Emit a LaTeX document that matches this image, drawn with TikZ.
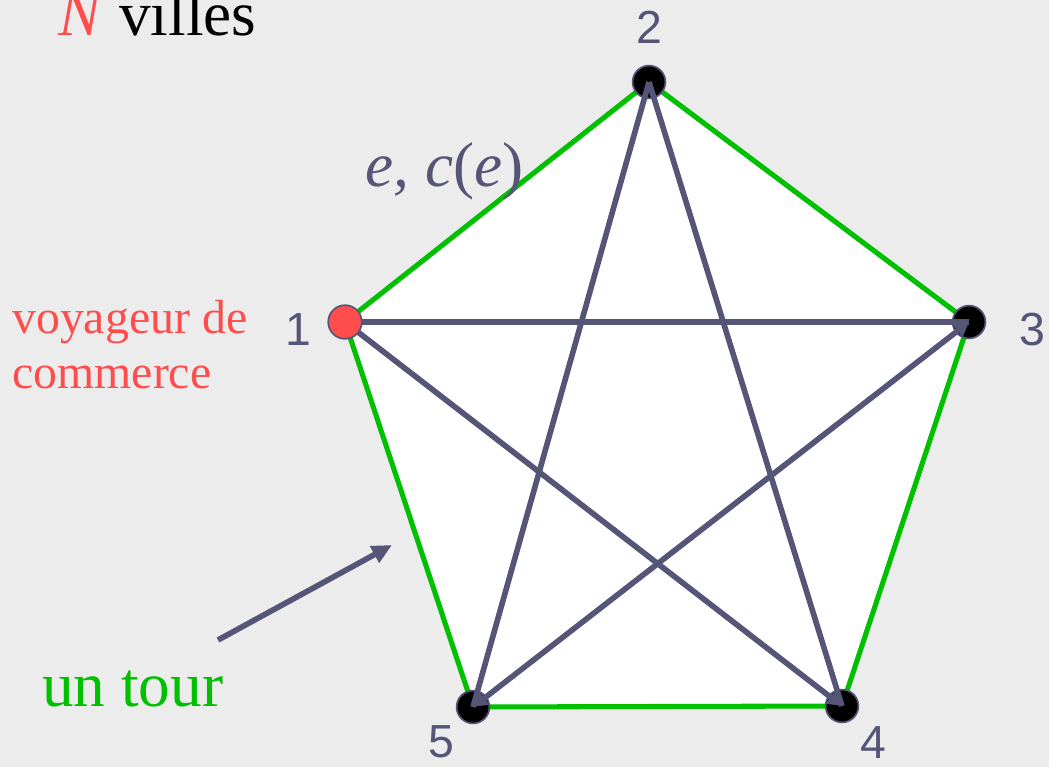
\documentclass[tikz,border=0pt]{standalone}
\usepackage{fontspec}
\setmainfont{Liberation Serif}
\setsansfont{Liberation Sans}
\usetikzlibrary{arrows.meta}
\definecolor{bg}{HTML}{ECECEC}
\definecolor{edgegrey}{HTML}{555577}
\definecolor{tourgreen}{HTML}{00C000}
\definecolor{redv}{HTML}{FF4D4D}
\begin{document}
\begin{tikzpicture}[x=0.025cm,y=-0.025cm,
  tour/.style={draw=tourgreen,line width=3.6pt},
  chord/.style={draw=edgegrey,line width=4pt},
  tiphead/.style={-{Triangle[length=0.36cm,width=0.38cm]}},
  city/.style={circle,fill=black,draw=edgegrey,line width=1.2pt,minimum size=0.82cm,inner sep=0pt},
  start/.style={circle,fill=redv,draw=edgegrey,line width=1.2pt,minimum size=0.84cm,inner sep=0pt},
  num/.style={font=\sffamily\fontsize{33}{38}\selectfont,text=edgegrey,inner sep=0pt},
  big/.style={font=\fontsize{45}{50}\selectfont,inner sep=0pt},
  mid/.style={font=\fontsize{34}{39}\selectfont,text=redv,inner sep=0pt}]
\useasboundingbox (0,0) rectangle (1049,767);
\fill[bg] (0,0) rectangle (1049,767);
\coordinate (p1) at (345,322);
\coordinate (p2) at (649,82);
\coordinate (p3) at (969,322);
\coordinate (p4) at (842,706);
\coordinate (p5) at (473,707);
\fill[white] (p1) -- (p2) -- (p3) -- (p4) -- (p5) -- cycle;
\draw[tour] (p1) -- (p2) -- (p3) -- (p4) -- (p5) -- cycle;
\node[city] (v2) at (p2) {};
\node[city] (v3) at (p3) {};
\node[city] (v4) at (p4) {};
\node[city] (v5) at (p5) {};
\draw[chord] (p1) -- (p3);
\draw[chord,tiphead] (p1) -- (p4);
\draw[chord] (p2) -- (p5);
\draw[chord] (p2) -- (p4);
\draw[chord,{Triangle[length=0.36cm,width=0.38cm]}-{Triangle[length=0.36cm,width=0.38cm]}] (p5) -- (p3);
\node[start] (v1) at (p1) {};
\node[num] (l1) at (298,330) {1};
\node[num] (l2) at (649,27) {2};
\node[num] (l3) at (1032,330) {3};
\node[num] (l4) at (873,743) {4};
\node[num] (l5) at (441,742) {5};
\node[big,anchor=base west] (title) at (58,36) {\textcolor{redv}{\textit{N}} villes};
\node[big,anchor=base west,text=tourgreen] (tourlbl) at (42,706) {un tour};
\node[big,anchor=base west,text=edgegrey] (elbl) at (365,187) {\textit{e, c}(\textit{e})};
\node[mid,anchor=base west] (voy1) at (12,333) {voyageur de};
\node[mid,anchor=base west] (voy2) at (12,388) {commerce};
\coordinate (tourtip) at (392,545);
\coordinate (tourtail) at (218,640);
\draw[chord,-{Triangle[length=0.5cm,width=0.45cm]}] (tourtail) -- (tourtip);
\end{tikzpicture}
\end{document}
